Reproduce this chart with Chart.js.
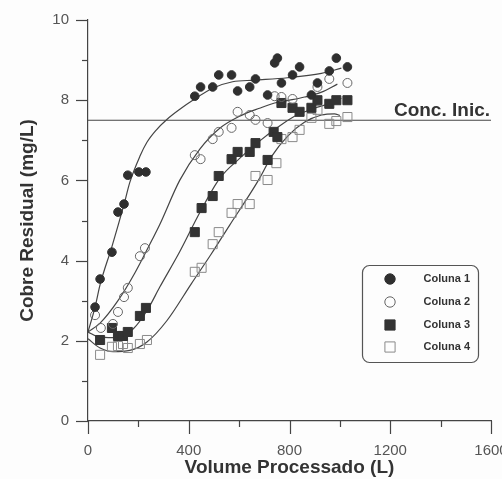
<!DOCTYPE html>
<html><head><meta charset="utf-8">
<script src="https://cdn.jsdelivr.net/npm/chart.js@4.4.1/dist/chart.umd.min.js"></script>
<style>
html,body{margin:0;padding:0;background:#fdfdfd;overflow:hidden;width:502px;height:479px;}
#wrap{width:502px;height:479px;overflow:hidden;position:relative;}
canvas{display:block;}
</style></head><body>
<div id="wrap"><canvas id="c" width="540" height="479"></canvas></div>
<script>
// ---- data ----
const seriesNames = ['Coluna 1', 'Coluna 2', 'Coluna 3', 'Coluna 4'];

const col1X = [28,48,95,119,143,158,202,230,424,447,495,519,570,594,642,665,713,741,752,768,812,840,887,911,958,986,1030];
const col1Y = [2.84,3.54,4.21,5.21,5.41,6.13,6.21,6.21,8.10,8.33,8.33,8.63,8.63,8.23,8.33,8.53,8.13,8.93,9.05,8.43,8.63,8.83,8.13,8.43,8.73,9.05,8.83];

const col2X = [28,51,99,119,143,158,206,226,424,447,495,519,570,594,642,665,713,741,768,812,911,958,1030];
const col2Y = [2.64,2.32,2.42,2.72,3.09,3.32,4.11,4.31,6.63,6.53,7.03,7.21,7.31,7.71,7.63,7.51,7.43,8.10,8.08,8.03,8.33,8.53,8.43];

const col3X = [48,95,119,139,158,206,230,424,451,495,519,570,594,642,665,713,737,752,768,812,840,887,911,958,986,1030];
const col3Y = [2.02,2.32,2.12,2.12,2.22,2.62,2.82,4.71,5.31,5.61,6.11,6.53,6.71,6.71,6.93,6.51,7.21,7.08,7.93,7.81,7.71,7.81,8.00,7.91,8.00,8.00];

const col4X = [48,95,119,139,158,206,234,424,451,495,519,570,594,642,665,713,748,768,812,840,887,911,958,986,1030];
const col4Y = [1.65,1.85,1.87,1.92,1.82,1.92,2.02,3.72,3.82,4.41,4.71,5.19,5.41,5.41,6.11,6.01,6.43,7.03,7.08,7.26,7.56,7.76,7.41,7.48,7.58];

// fitted curves
const fit1X = [0,28,48,95,143,166,206,234,270,313,370,416,495,574,661,792,927,1006];
const fit1Y = [2.22,2.84,3.40,4.35,5.40,5.95,6.60,6.95,7.25,7.52,7.80,8.00,8.30,8.46,8.50,8.56,8.67,8.80];
const fit2X = [0,48,119,186,253,285,364,444,523,602,681,741,800,860,927,990];
const fit2Y = [2.22,2.44,3.00,3.69,4.50,4.90,6.00,6.78,7.30,7.60,7.80,7.93,8.00,8.08,8.20,8.40];
const fit3X = [0,40,100,140,180,234,285,364,444,523,602,681,748,820,899,966,1006];
const fit3Y = [2.22,2.10,2.08,2.13,2.30,2.75,3.34,4.22,5.20,6.05,6.55,6.98,7.30,7.60,7.80,7.93,8.05];
const fit4X = [0,48,100,166,234,313,410,490,562,642,681,729,792,859,927,978,1000];
const fit4Y = [2.05,1.82,1.73,1.76,1.97,2.50,3.42,4.17,4.88,5.65,6.05,6.60,7.10,7.45,7.63,7.66,7.62];

const concInic = 7.5;
const concLabel = 'Conc. Inic.';
const xTickLabels = [0, 400, 800, 1200, 1600];
const yTickLabels = [0, 2, 4, 6, 8, 10];
const xTitle = 'Volume Processado (L)';
const yTitle = 'Cobre Residual (mg/L)';

// ---- build ----
const pts = (xs, ys) => xs.map((x, i) => ({x, y: ys[i]}));
const LINE = '#444';

const pointStyles = [
  {pointStyle:'circle', radius:4.3, bg:'#2f2f2f', border:'#2f2f2f'},
  {pointStyle:'circle', radius:4.5, bg:'rgba(255,255,255,0)', border:'#666'},
  {pointStyle:'rect', radius:6.4, bg:'#333', border:'#333'},
  {pointStyle:'rect', radius:6.4, bg:'rgba(255,255,255,0)', border:'#8a8a8a'}
];
const colData = [[col1X,col1Y],[col2X,col2Y],[col3X,col3Y],[col4X,col4Y]];
const fitData = [[fit1X,fit1Y],[fit2X,fit2Y],[fit3X,fit3Y],[fit4X,fit4Y]];

const datasets = [];
fitData.forEach((f, i) => datasets.push({
  label: 'fit ' + (i+1), data: pts(f[0], f[1]), showLine: true, fill: false,
  borderColor: LINE, borderWidth: 1.2, pointRadius: 0, cubicInterpolationMode: 'monotone',
  isFit: true, order: 2
}));
datasets.push({label:'conc', data:[{x:0,y:concInic},{x:1600,y:concInic}], showLine:true,
  borderColor: LINE, borderWidth: 1.2, pointRadius: 0, isFit: true, order: 2});
colData.forEach((c, i) => datasets.push({
  label: seriesNames[i], data: pts(c[0], c[1]), showLine: false,
  pointStyle: pointStyles[i].pointStyle, pointRadius: pointStyles[i].radius,
  backgroundColor: pointStyles[i].bg, borderColor: pointStyles[i].border, borderWidth: 1,
  order: 1, legendIdx: i
}));

const tickPlugin = {
  id: 'minorMajorTicks',
  afterDraw(chart) {
    const {ctx, scales: {x, y}} = chart;
    ctx.save();
    ctx.strokeStyle = LINE; ctx.lineWidth = 1.2;
    y.ticks.forEach(t => {
      const py = Math.round(y.getPixelForValue(t.value)) + 0.5;
      const len = yTickLabels.includes(t.value) ? 12 : 6;
      ctx.beginPath(); ctx.moveTo(x.left - len, py); ctx.lineTo(x.left, py); ctx.stroke();
    });
    x.ticks.forEach(t => {
      const px = Math.round(x.getPixelForValue(t.value)) + 0.5;
      const len = xTickLabels.includes(t.value) ? 13 : 6;
      ctx.beginPath(); ctx.moveTo(px, y.bottom); ctx.lineTo(px, y.bottom + len); ctx.stroke();
    });
    // concentration label
    ctx.fillStyle = '#333';
    ctx.font = 'bold 19px "Liberation Sans", Arial, sans-serif';
    ctx.textAlign = 'right'; ctx.textBaseline = 'alphabetic';
    ctx.fillText(concLabel, x.getPixelForValue(1600) - 1, y.getPixelForValue(concInic) - 4);
    ctx.restore();
  }
};

const legendPlugin = {
  id: 'boxLegend',
  afterDraw(chart) {
    const ctx = chart.ctx;
    const bx = 362.5, by = 265.5, bw = 116, bh = 97, r = 7;
    ctx.save();
    ctx.fillStyle = '#fdfdfd';
    ctx.strokeStyle = '#555'; ctx.lineWidth = 1.2;
    ctx.beginPath();
    ctx.moveTo(bx + r, by); ctx.lineTo(bx + bw - r, by); ctx.arcTo(bx + bw, by, bx + bw, by + r, r);
    ctx.lineTo(bx + bw, by + bh - r); ctx.arcTo(bx + bw, by + bh, bx + bw - r, by + bh, r);
    ctx.lineTo(bx + r, by + bh); ctx.arcTo(bx, by + bh, bx, by + bh - r, r);
    ctx.lineTo(bx, by + r); ctx.arcTo(bx, by, bx + r, by, r);
    ctx.closePath(); ctx.fill(); ctx.stroke();
    const rows = [279, 302, 325, 347];
    const mStyles = [
      {s:'circle', r:5.2}, {s:'circle', r:5.2}, {s:'rect', r:7.2}, {s:'rect', r:7.2}
    ];
    chart.data.datasets.filter(d => d.legendIdx !== undefined).forEach(d => {
      const i = d.legendIdx;
      ctx.fillStyle = d.backgroundColor; ctx.strokeStyle = d.borderColor; ctx.lineWidth = 1;
      Chart.helpers.drawPoint(ctx, {pointStyle: mStyles[i].s, radius: mStyles[i].r, borderWidth: 1}, 390, rows[i]);
      ctx.fillStyle = '#333';
      ctx.font = 'bold 11px "Liberation Sans", Arial, sans-serif';
      ctx.textAlign = 'right'; ctx.textBaseline = 'middle';
      ctx.fillText(d.label, 470, rows[i]);
    });
    ctx.restore();
  }
};

new Chart(document.getElementById('c'), {
  type: 'scatter',
  data: { datasets },
  plugins: [tickPlugin, legendPlugin],
  options: {
    responsive: false, animation: false, devicePixelRatio: 1,
    layout: { padding: { left: 0, top: 20, right: 49, bottom: 0 } },
    plugins: { legend: { display: false }, tooltip: { enabled: false } },
    scales: {
      x: {
        type: 'linear', min: 0, max: 1600,
        afterFit: s => { s.height = 58; s.paddingLeft = 0; s.paddingRight = 0; },
        border: { display: true, color: LINE, width: 1.2 },
        grid: { display: true, drawOnChartArea: false, drawTicks: false, color: 'rgba(0,0,0,0)' },
        ticks: { stepSize: 200, padding: 21, color: '#555', maxRotation: 0, autoSkip: false,
          font: { family: '"Liberation Sans", Arial, sans-serif', size: 15 },
          callback: v => xTickLabels.includes(v) ? String(v) : '' },
        title: { display: true, text: xTitle, color: '#333', padding: { top: 0, bottom: 0 },
          font: { family: '"Liberation Sans", Arial, sans-serif', size: 19, weight: 'bold' } }
      },
      y: {
        type: 'linear', min: 0, max: 10,
        afterFit: s => { s.width = 88; s.paddingTop = 0; s.paddingBottom = 0; },
        border: { display: true, color: LINE, width: 1.2 },
        grid: { display: true, drawOnChartArea: false, drawTicks: false, color: 'rgba(0,0,0,0)' },
        ticks: { stepSize: 1, padding: 19, color: '#555', autoSkip: false,
          font: { family: '"Liberation Sans", Arial, sans-serif', size: 15 },
          callback: v => yTickLabels.includes(v) ? String(v) : '' },
        title: { display: true, text: yTitle, color: '#333', padding: { top: 16, bottom: 0 },
          font: { family: '"Liberation Sans", Arial, sans-serif', size: 19, weight: 'bold' } }
      }
    }
  }
});
</script>
</body></html>
